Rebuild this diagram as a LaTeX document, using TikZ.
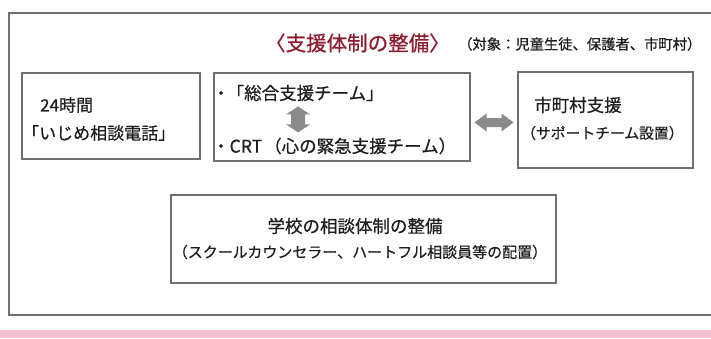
\documentclass[tikz,border=0pt]{standalone}
\usepackage{fontspec}
\setmainfont{Noto Sans CJK JP}[FakeBold=0.6]
\usetikzlibrary{calc}
\definecolor{titlered}{HTML}{8E1B2E}
\definecolor{txt}{HTML}{1E1E1E}
\definecolor{boxline}{HTML}{707070}
\definecolor{arrowgray}{HTML}{8A8A8A}
\definecolor{pinkband}{HTML}{F2C2D0}
\tikzset{
  box/.style={draw=boxline, line width=1.1pt, fill=white, inner sep=0pt},
  lbl/.style={text=txt, inner sep=0pt, anchor=west},
  clbl/.style={text=txt, inner sep=0pt, anchor=center},
  fatarrow/.style={fill=arrowgray, draw=none},
}
\begin{document}
\begin{tikzpicture}[x=1pt,y=-1pt]
\useasboundingbox (0,0) rectangle (711,338);
\fill[white] (0,0) rectangle (711,338);
% pink band
\fill[pinkband] (0,330) rectangle (711,338);
% outer frame (open to the right)
\coordinate (fTR) at (711,13);
\coordinate (fTL) at (9,13);
\coordinate (fBL) at (9,315);
\coordinate (fBR) at (711,315);
\draw[boxline, line width=1.1pt] (fTR) -- (fTL) -- (fBL) -- (fBR);
% title
\node[lbl, text=titlered, font=\fontsize{20.5}{22}\selectfont] (title) at (265,43) {〈支援体制の整備〉};
\node[lbl, font=\fontsize{14.3}{16}\selectfont] (target) at (458,44) {（対象：児童生徒、保護者、市町村）};
% boxes
\node[box, minimum width=178pt, minimum height=86pt] (b1) at (111,116) {};
\node[box, minimum width=256pt, minimum height=88pt] (b2) at (342,117) {};
\node[box, minimum width=175pt, minimum height=96pt] (b3) at (605.5,120) {};
\node[box, minimum width=385pt, minimum height=88pt] (b4) at (363.5,239) {};
% box 1 text
\node[lbl, font=\fontsize{17}{20}\selectfont] (t1a) at (40,105) {24時間};
\node[lbl, font=\fontsize{17}{20}\selectfont] (t1b) at (22,133) {「いじめ相談電話」};
% box 2 text
\node[lbl, font=\fontsize{17.5}{20}\selectfont] (t2a) at (212,93) {・\kern-3pt「総合支援チーム」};
\node[lbl, font=\fontsize{17.5}{20}\selectfont] (t2b) at (212,146) {・CRT\kern2pt（心の緊急支援チーム）};
% box 3 text
\node[lbl, font=\fontsize{17.5}{20}\selectfont] (t3a) at (534,105) {市町村支援};
\node[lbl, font=\fontsize{14.8}{17}\selectfont] (t3b) at (521,133) {（サポートチーム設置）};
% box 4 text
\node[clbl, font=\fontsize{17.5}{20}\selectfont] (t4a) at (355,226) {学校の相談体制の整備};
\node[clbl, font=\fontsize{15}{18}\selectfont] (t4b) at (360,252) {（スクールカウンセラー、ハートフル相談員等の配置）};
% vertical double arrow between the two teams
\coordinate (va) at ($(t2a.south west)!0.5!(t2b.north west) + (86,0)$);
\fill[fatarrow] ($(va)+(0,-13)$) -- ++(12,8) -- ++(-5,0) -- ++(0,10) -- ++(5,0)
  -- ($(va)+(0,13)$) -- ++(-12,-8) -- ++(5,0) -- ++(0,-10) -- ++(-5,0) -- cycle;
% horizontal double arrow between box 2 and box 3
\coordinate (ha) at ($(b2.east)!0.5!(b3.west) + (0,4)$);
\fill[fatarrow] ($(ha)+(-19.5,0)$) -- ++(12,-9) -- ++(0,4.5) -- ++(15,0) -- ++(0,-4.5)
  -- ($(ha)+(19.5,0)$) -- ++(-12,9) -- ++(0,-4.5) -- ++(-15,0) -- ++(0,4.5) -- cycle;
\end{tikzpicture}
\end{document}
